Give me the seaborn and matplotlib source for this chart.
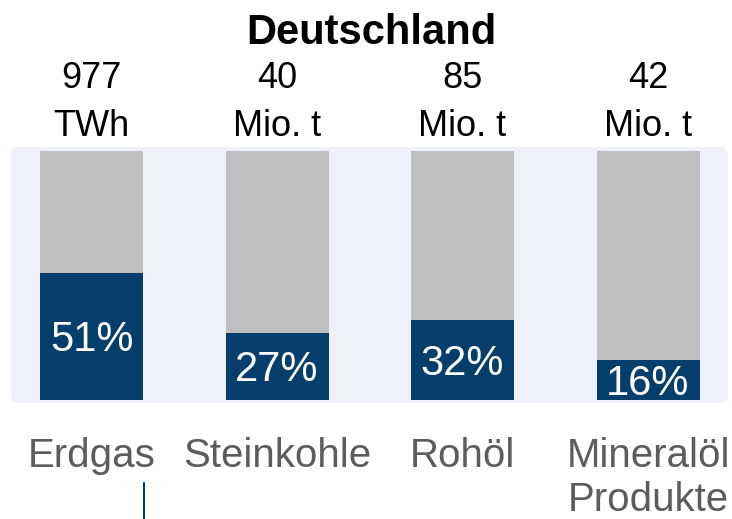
import matplotlib
matplotlib.use('Agg')
import matplotlib.pyplot as plt
import matplotlib.transforms as mtransforms
from matplotlib import font_manager
from matplotlib.patches import FancyBboxPatch
from matplotlib.lines import Line2D
import seaborn as sns
import pandas as pd

# Daten
title = 'Deutschland'
categories = ['Erdgas', 'Steinkohle', 'Rohöl', 'Mineralöl\nProdukte']
shares = [51, 27, 32, 16]          # Anteil in %
totals = ['977', '40', '85', '42']
units = ['TWh', 'Mio. t', 'Mio. t', 'Mio. t']

NAVY = '#053d6b'
GREY = '#bfbfbf'
PANEL = '#eef1f9'
TXT = '#5c5c5c'

sns.set_theme(style='white')
plt.rcParams['font.family'] = ['Liberation Sans', 'DejaVu Sans']

# schmale Schrift fuer die Mengen, falls vorhanden
installed = {f.name for f in font_manager.fontManager.ttflist}
if 'Liberation Sans Narrow' in installed:
    top_family, top_size = ['Liberation Sans Narrow', 'DejaVu Sans'], 30
else:
    top_family, top_size = ['Liberation Sans', 'DejaVu Sans'], 26

df = pd.DataFrame({'cat': categories, 'share': shares, 'full': [100] * len(shares)})

W, H = 732, 519
fig = plt.figure(figsize=(W / 100, H / 100), dpi=100)
ax = fig.add_axes([11 / W, 1 - 403 / H, 717 / W, 256 / H])

# Hintergrund-Panel mit runden Ecken
ax_w, ax_h = 717, 256
panel = FancyBboxPatch((0, 0), 1, 1, boxstyle='round,pad=0,rounding_size=%f' % (8 / ax_w),
                       mutation_aspect=ax_w / ax_h, transform=ax.transAxes,
                       fc=PANEL, ec='none', zorder=0, clip_on=False)
ax.add_patch(panel)

sns.barplot(data=df, x='cat', y='full', color=GREY, width=0.555, saturation=1,
            errorbar=None, linewidth=0, ax=ax, zorder=2)
sns.barplot(data=df, x='cat', y='share', color=NAVY, width=0.555, saturation=1,
            errorbar=None, linewidth=0, ax=ax, zorder=3)

ax.set_xlim(-0.434, 3.431)
ax.set_ylim(-1.2, 101.6)
ax.set_axis_off()

# Prozentwerte in den Balken
for i, s in enumerate(shares):
    ax.text(i, s / 2 - 1.5, f'{s}%', ha='center', va='center', color='white',
            fontsize=30, zorder=4)

trans = mtransforms.blended_transform_factory(ax.transData, fig.transFigure)

# Mengen oben (zwei Zeilen)
for i, (t, u) in enumerate(zip(totals, units)):
    ax.text(i, 1 - 88 / H, t, transform=trans, ha='center', va='baseline',
            fontsize=top_size, color='black', family=top_family)
    ax.text(i, 1 - 136 / H, u, transform=trans, ha='center', va='baseline',
            fontsize=top_size, color='black', family=top_family)

# Kategorien unten
for i, c in enumerate(categories):
    for k, line in enumerate(c.split('\n')):
        ax.text(i, 1 - (467 + 44 * k) / H, line, transform=trans, ha='center',
                va='baseline', fontsize=29, color=TXT)

fig.text(371 / W, 1 - 44 / H, title, ha='center', va='baseline',
         fontsize=30, fontweight='bold', color='black')

fig.add_artist(Line2D([143.5 / W] * 2, [1 - 483 / H, 0], color=NAVY, lw=1.5,
                      transform=fig.transFigure))

fig.savefig('out.png', dpi=100)
